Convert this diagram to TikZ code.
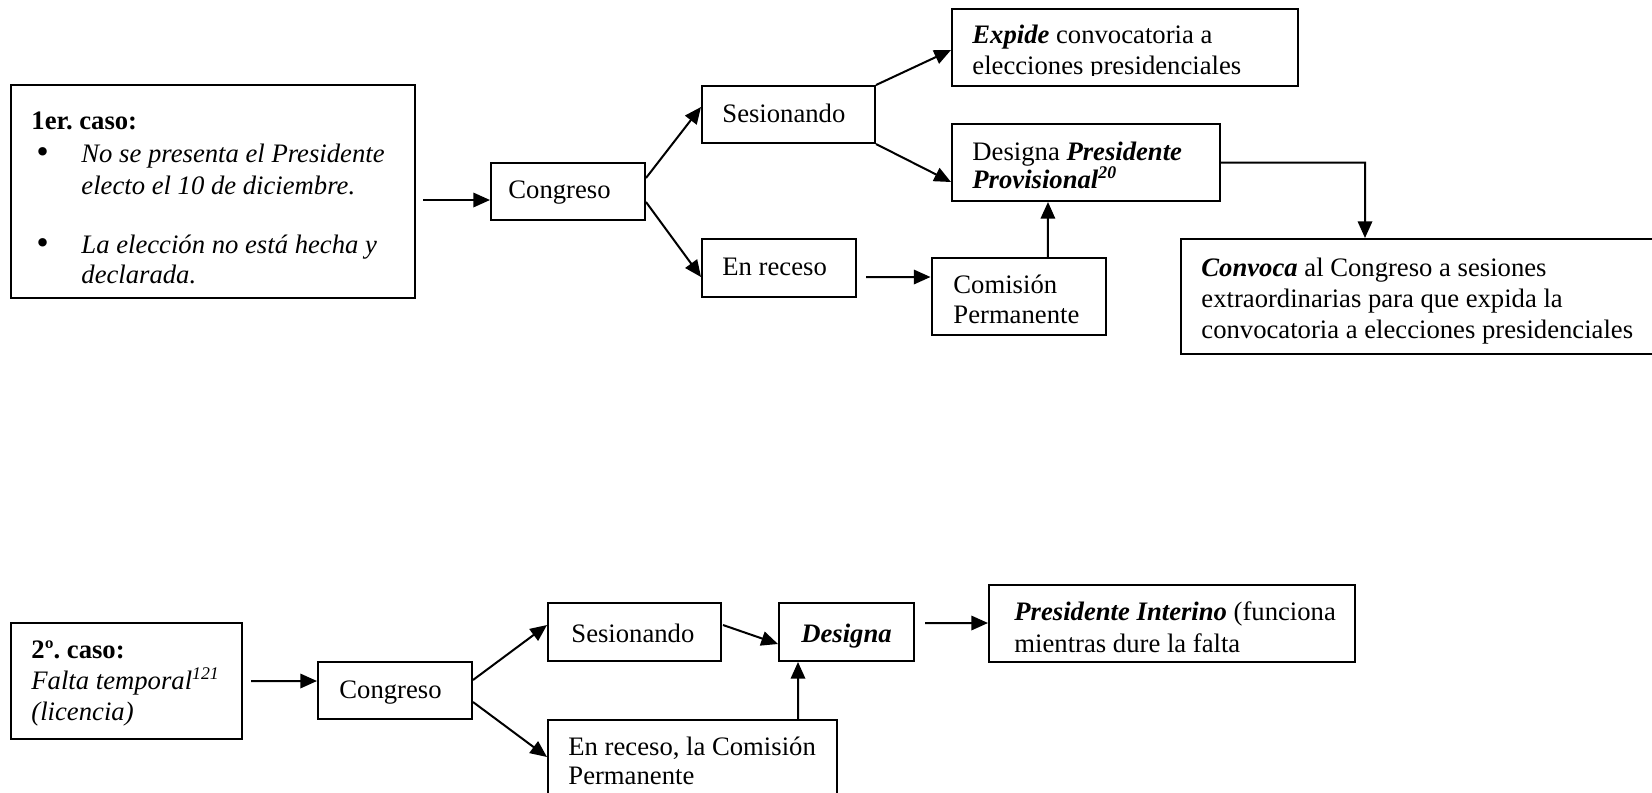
\documentclass[tikz,border=0pt]{standalone}
\usepackage{fontspec}
\setmainfont{Liberation Serif}
\newfontfamily\bulletfont{DejaVu Sans}
\usetikzlibrary{arrows.meta,fit}
\frenchspacing
\begin{document}
\begin{tikzpicture}[x=0.45pt,y=-0.45pt,
  box/.style={draw, line width=0.9pt, inner sep=0pt},
  txt/.style={anchor=base west, inner sep=0pt, font=\fontsize{12}{14}\selectfont},
  arr/.style={line width=0.9pt, -{Triangle[length=7.5pt,width=6.5pt]}}]
\useasboundingbox (0,0) rectangle (1652,792);
\clip (0,0) rectangle (1652,792);
% ---------- first case ----------
\node[box, fit={(10.5,85) (415,298)}] (b1) {};
\node[txt] (b1t) at (31,129) {\textbf{1er. caso:}};
\node[txt] (b1u1) at (34,162) {{\bulletfont\fontsize{13}{14}\selectfont •}};
\node[txt] (b1l1) at (81,162) {\textit{No se presenta el Presidente}};
\node[txt] (b1l2) at (81,194) {\textit{electo el 10 de diciembre.}};
\node[txt] (b1u2) at (34,253) {{\bulletfont\fontsize{13}{14}\selectfont •}};
\node[txt] (b1l3) at (81,253) {\textit{La elección no está hecha y}};
\node[txt] (b1l4) at (81,283) {\textit{declarada.}};

\node[box, fit={(491,163) (645,220)}] (cong1) {};
\node[txt] (cong1t) at (508,198) {Congreso};

\node[box, fit={(702,86) (875,143)}] (ses1) {};
\node[txt] (ses1t) at (722,122) {Sesionando};

\node[box, fit={(702,239) (856,297)}] (rec1) {};
\node[txt] (rec1t) at (722,275) {En receso};

\node[box, fit={(952,9) (1298,86)}] (exp) {};
\begin{scope}
\clip (952,9) rectangle (1298,75.5);
\node[txt] (expt1) at (972,43) {\textbf{\textit{Expide}} convocatoria a};
\node[txt] (expt2) at (972,74) {elecciones presidenciales};
\end{scope}

\node[box, fit={(952,124) (1220,201)}] (des1) {};
\node[txt] (des1t1) at (972,160) {Designa \textbf{\textit{Presidente}}};
\node[txt] (des1t2) at (972,188) {\textbf{\textit{Provisional}}\textsuperscript{\textbf{\textit{20}}}};

\node[box, fit={(931.5,258) (1106,335)}] (com) {};
\node[txt] (comt1) at (953,293) {Comisión};
\node[txt] (comt2) at (953,323) {Permanente};

\node[box, fit={(1181,239) (1665,354)}] (conv) {};
\node[txt] (convt1) at (1201,276) {\textbf{\textit{Convoca}} al Congreso a sesiones};
\node[txt] (convt2) at (1201,307) {extraordinarias para que expida la};
\node[txt] (convt3) at (1201,338) {convocatoria a elecciones presidenciales};

\draw[arr] ([shift={(7,8.5)}]b1.east) -- ([shift={(0,8.5)}]cong1.west);
\draw[arr] ([shift={(0,-13.5)}]cong1.east) -- ([shift={(0,-7.5)}]ses1.west);
\draw[arr] ([shift={(0,10.5)}]cong1.east) -- ([shift={(0,9)}]rec1.west);
\draw[arr] (ses1.north east) -- ([shift={(0,2.5)}]exp.west);
\draw[arr] (ses1.south east) -- ([shift={(0,19.5)}]des1.west);
\draw[arr] ([shift={(9,9)}]rec1.east) -- ([shift={(0,-19.5)}]com.west);
\draw[arr] ([shift={(29,0)}]com.north) -- ([shift={(-38,0)}]des1.south);
\coordinate (k1) at (1365,162.5);
\draw[arr] (des1.east) -- (k1) -- (k1 |- conv.north);

% ---------- second case ----------
\node[box, fit={(11,623) (242,739)}] (b2) {};
\node[txt] (b2t1) at (31,658) {\textbf{2º. caso:}};
\node[txt] (b2t2) at (31,689) {\textit{Falta temporal}\textsuperscript{\textit{121}}};
\node[txt] (b2t3) at (31,720) {\textit{(licencia)}};

\node[box, fit={(318,662) (472,719)}] (cong2) {};
\node[txt] (cong2t) at (339,698) {Congreso};

\node[box, fit={(548,603) (721,661)}] (ses2) {};
\node[txt] (ses2t) at (571,642) {Sesionando};

\node[box, fit={(548,720) (837,800)}] (rec2) {};
\node[txt] (rec2t1) at (568,755) {En receso, la Comisión};
\node[txt] (rec2t2) at (568,784) {Permanente};

\node[box, fit={(779,603) (914,661)}] (des2) {};
\node[txt, anchor=base] (des2t) at (846.5,642) {\textbf{\textit{Designa}}};

\node[box, fit={(989,585) (1355,662)}] (pint) {};
\node[txt] (pintt1) at (1014,620) {\textbf{\textit{Presidente Interino}} (funciona};
\node[txt] (pintt2) at (1014,652) {mientras dure la falta};

\draw[arr] ([shift={(8,0)}]b2.east) -- ([shift={(0,-9.5)}]cong2.west);
\draw[arr] ([shift={(0,-10.5)}]cong2.east) -- ([shift={(0,-7)}]ses2.west);
\draw[arr] ([shift={(0,11.5)}]cong2.east) -- ([shift={(0,-3)}]rec2.west);
\draw[arr] ([shift={(1,-7)}]ses2.east) -- ([shift={(0,12)}]des2.west);
\draw[arr] ([shift={(105.5,0)}]rec2.north) -- ([shift={(-48.5,0)}]des2.south);
\draw[arr] ([shift={(10,-9)}]des2.east) -- ([shift={(0,-0.5)}]pint.west);
\end{tikzpicture}
\end{document}
